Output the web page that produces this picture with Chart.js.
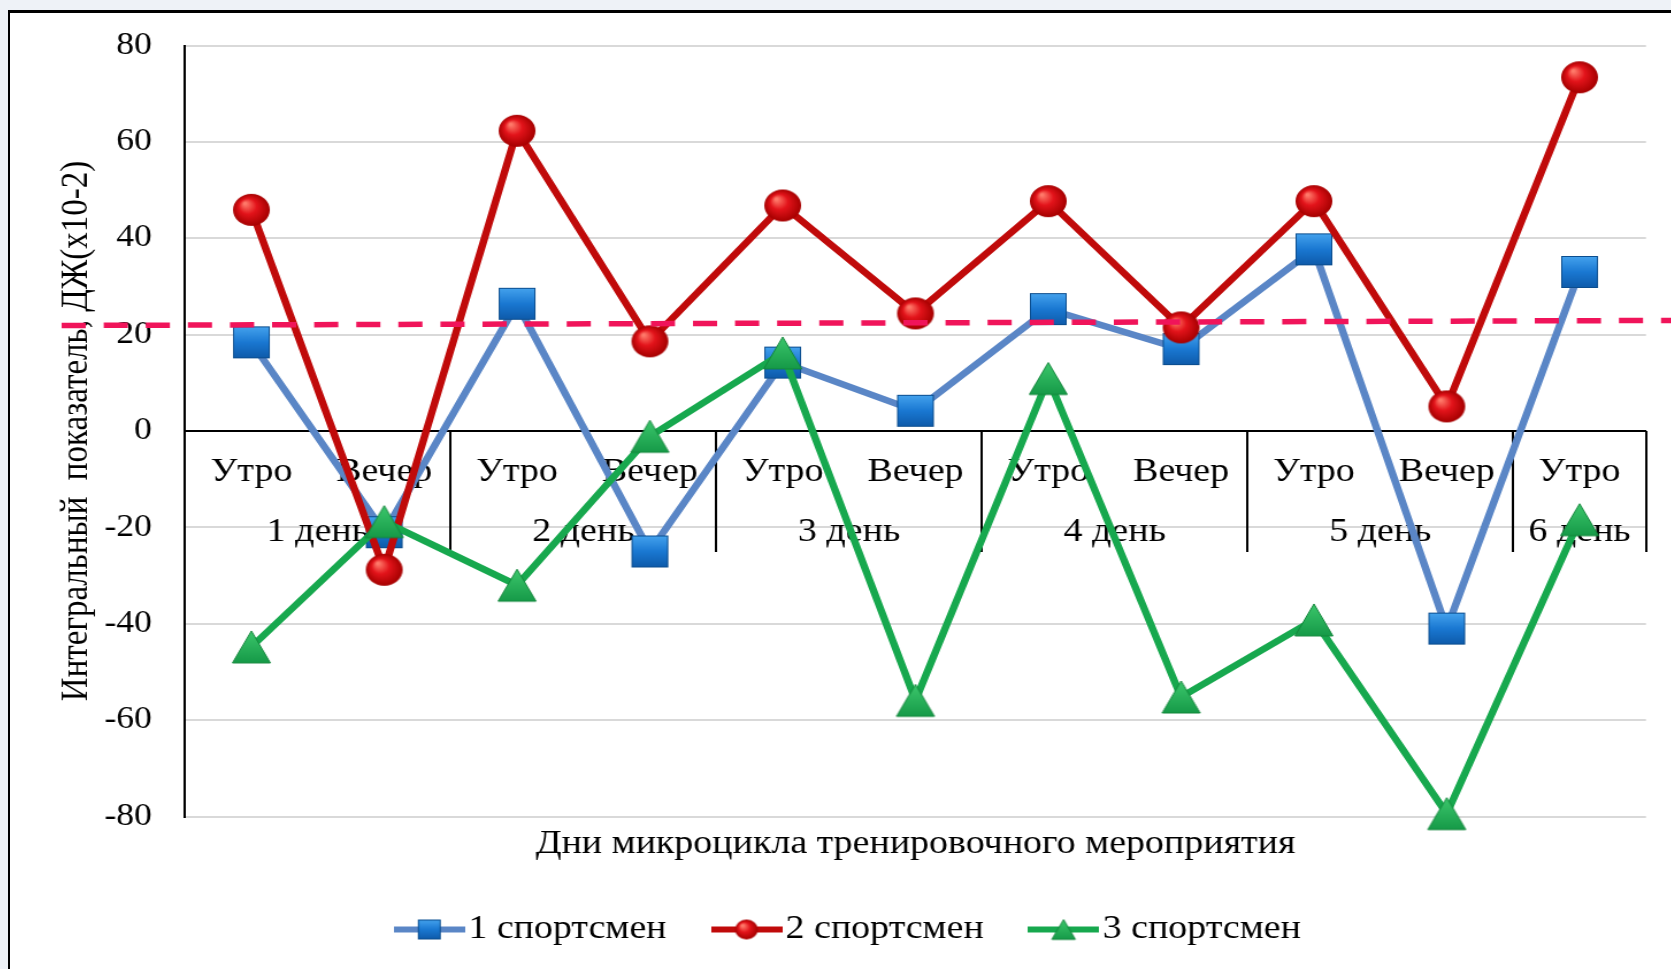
<!DOCTYPE html>
<html>
<head>
<meta charset="utf-8">
<script src="https://cdn.jsdelivr.net/npm/chart.js@4"></script>
<style>
  html, body { margin: 0; padding: 0; width: 1671px; height: 969px; overflow: hidden; background: #eef2f7; }
  #frame { position: absolute; left: 8px; top: 10px; width: 1700px; height: 1000px; border-left: 2px solid #000; border-top: 3px solid #000; background: #fff; }
  /* the source picture is stretched horizontally, so the chart is too */
  #wrap { position: absolute; left: 11px; top: 13px; width: 1518px; height: 956px; transform: scaleX(1.15); transform-origin: 0 0; }
</style>
</head>
<body>
<div id="frame"></div>
<div id="wrap"><canvas id="chart"></canvas></div>
<script>
// categories
const sessions = ['Утро', 'Вечер', 'Утро', 'Вечер', 'Утро', 'Вечер', 'Утро', 'Вечер', 'Утро', 'Вечер', 'Утро'];
const days = ['1 день', '2 день', '3 день', '4 день', '5 день', '6 день'];
const sessionDay = [0, 0, 1, 1, 2, 2, 3, 3, 4, 4, 5];

// series (integral index, x10-2)
const athlete1 = [18.4, -21, 26.4, -25, 14.2, 4.2, 25.3, 17, 37.7, -41, 33];
const athlete2 = [45.9, -28.8, 62.3, 18.6, 46.8, 24.4, 47.7, 21.5, 47.7, 5.1, 73.4];
const athlete3 = [-44.8, -18.8, -32, -1.1, 16.2, -55.9, 10.9, -55.2, -39.2, -79.4, -18.4];
const seriesNames = ['1 спортсмен', '2 спортсмен', '3 спортсмен'];

// y axis
const yMin = -80, yMax = 80, yStep = 20;
// dashed reference level (left end, right end)
const thresholdLevel = [21.9, 23.0];

const yTitle = 'Интегральный  показатель, ДЖ(х10-2)';
const xTitle = 'Дни микроцикла тренировочного мероприятия';

const FONT = "'Liberation Serif', 'Times New Roman', serif";
const TEXT = 33, TICK = 31;
Chart.defaults.font.family = FONT;
Chart.defaults.color = '#000';

function drawSquare(ctx, cx, cy, s) {
  const g = ctx.createLinearGradient(0, cy - s / 2, 0, cy + s / 2);
  g.addColorStop(0, '#45a3ee');
  g.addColorStop(0.5, '#1a78d2');
  g.addColorStop(1, '#0e5aa9');
  ctx.fillStyle = g;
  ctx.fillRect(cx - s / 2, cy - s / 2, s, s);
  ctx.strokeStyle = '#0b4d8e';
  ctx.lineWidth = 1;
  ctx.strokeRect(cx - s / 2 + 0.5, cy - s / 2 + 0.5, s - 1, s - 1);
}
function drawCircle(ctx, cx, cy, r) {
  const g = ctx.createRadialGradient(cx - r * 0.35, cy - r * 0.4, 1, cx, cy, r);
  g.addColorStop(0, '#ff7a6a');
  g.addColorStop(0.45, '#e3141b');
  g.addColorStop(1, '#a50000');
  ctx.fillStyle = g;
  ctx.beginPath();
  ctx.arc(cx, cy, r, 0, Math.PI * 2);
  ctx.fill();
}
function drawTriangle(ctx, cx, cy, w, h) {
  const g = ctx.createLinearGradient(0, cy - h / 2, 0, cy + h / 2);
  g.addColorStop(0, '#3cc76c');
  g.addColorStop(1, '#169a48');
  ctx.fillStyle = g;
  ctx.beginPath();
  ctx.moveTo(cx, cy - h / 2);
  ctx.lineTo(cx + w / 2, cy + h / 2);
  ctx.lineTo(cx - w / 2, cy + h / 2);
  ctx.closePath();
  ctx.fill();
  ctx.strokeStyle = '#12863b';
  ctx.lineWidth = 1;
  ctx.stroke();
}

function makeIcon(kind, w, h, lineColor, scale) {
  const c = document.createElement('canvas');
  c.width = w; c.height = h;
  const ctx = c.getContext('2d');
  if (lineColor) {
    ctx.strokeStyle = lineColor;
    ctx.lineWidth = 6;
    ctx.beginPath();
    ctx.moveTo(0, h / 2);
    ctx.lineTo(w, h / 2);
    ctx.stroke();
  }
  const k = scale || 1;
  if (kind === 'square') drawSquare(ctx, w / 2, h / 2, 32 * k);
  if (kind === 'circle') drawCircle(ctx, w / 2, h / 2, 16 * k);
  if (kind === 'triangle') drawTriangle(ctx, w / 2, h / 2, 33 * k, 32 * k);
  return c;
}

const lineColors = ['#5a86c6', '#c00a0a', '#17a84e'];
const markerKinds = ['square', 'circle', 'triangle'];
const pointIcons = markerKinds.map(k => makeIcon(k, 36, 36));
const legendIcons = markerKinds.map((k, i) => makeIcon(k, 62, 34, lineColors[i], 0.62));

const dayTable = {
  id: 'dayTable',
  beforeDatasetsDraw(chart) {
    const {ctx, scales: {x, y}} = chart;
    const top = y.getPixelForValue(0);
    ctx.save();
    ctx.strokeStyle = '#000';
    ctx.lineWidth = 2;
    ctx.fillStyle = '#000';
    ctx.font = TEXT + 'px ' + FONT;
    ctx.textAlign = 'center';
    ctx.textBaseline = 'middle';
    days.forEach((day, d) => {
      const idx = [];
      sessionDay.forEach((v, i) => { if (v === d) idx.push(i); });
      const first = idx[0], last = idx[idx.length - 1];
      const edge = Math.round(x.getPixelForValue(last + 0.5));
      ctx.beginPath();
      ctx.moveTo(edge, top);
      ctx.lineTo(edge, top + 121);
      ctx.stroke();
      ctx.fillText(day, x.getPixelForValue((first + last) / 2), top + 101);
    });
    ctx.restore();
  }
};

const thresholdPlugin = {
  id: 'threshold',
  afterDatasetsDraw(chart) {
    const {ctx, scales: {y}} = chart;
    ctx.save();
    ctx.setLineDash([21, 15.6]);
    ctx.lineWidth = 5.5;
    ctx.strokeStyle = '#f0145a';
    ctx.beginPath();
    ctx.moveTo(44, y.getPixelForValue(thresholdLevel[0]));
    ctx.lineTo(chart.width, y.getPixelForValue(thresholdLevel[1]));
    ctx.stroke();
    ctx.restore();
  }
};

const seriesData = [athlete1, athlete2, athlete3];

new Chart(document.getElementById('chart'), {
  type: 'line',
  data: {
    labels: sessions,
    datasets: seriesData.map((d, i) => ({
      label: seriesNames[i],
      data: d,
      borderColor: lineColors[i],
      backgroundColor: lineColors[i],
      borderWidth: 6.5,
      pointStyle: pointIcons[i],
      pointRadius: 16,
      tension: 0,
      fill: false,
      clip: false,
      order: 3 - i,
      xAxisID: 'x',
      yAxisID: 'y'
    }))
  },
  options: {
    responsive: true,
    maintainAspectRatio: false,
    devicePixelRatio: 1,
    animation: false,
    layout: { padding: { left: 46.1, right: 96.3, top: 32.5, bottom: 13 } },
    plugins: {
      tooltip: { enabled: false },
      legend: {
        position: 'bottom',
        labels: {
          usePointStyle: true,
          pointStyleWidth: 35,
          padding: 52,
          color: '#000',
          font: { size: TEXT },
          generateLabels(chart) {
            const items = Chart.defaults.plugins.legend.labels.generateLabels(chart);
            items.forEach(it => { it.pointStyle = legendIcons[it.datasetIndex]; });
            return items.sort((a, b) => a.datasetIndex - b.datasetIndex);
          }
        }
      }
    },
    scales: {
      x: {
        type: 'category',
        offset: true,
        position: { y: 0 },
        grid: { display: false, drawTicks: false },
        border: { display: true, color: '#000', width: 2 },
        ticks: { padding: 21.7, font: { size: TEXT }, color: '#000', maxRotation: 0, autoSkip: false }
      },
      xTitle: {
        type: 'category',
        labels: sessions,
        offset: true,
        position: 'bottom',
        grid: { display: false, drawTicks: false },
        border: { display: false },
        ticks: { display: false },
        title: { display: true, text: xTitle, color: '#000', font: { size: TEXT, lineHeight: 1 }, padding: 0 },
        afterFit(s) { s.height = 44.5; }
      },
      y: {
        min: yMin,
        max: yMax,
        grid: {
          color: c => (c.tick && c.tick.value === 0 ? '#000' : '#d9d9d9'),
          lineWidth: 2,
          drawTicks: false
        },
        border: { display: true, color: '#000', width: 2 },
        ticks: { stepSize: yStep, padding: 28.7, font: { size: TICK }, color: '#000' },
        title: { display: true, text: yTitle, color: '#000', font: { size: TEXT, lineHeight: 1 }, padding: { top: -5.2, bottom: 0 } },
        afterFit(s) {
          s.width = 105.2;
          s.paddingTop = 0;
          s.paddingBottom = 0;
        }
      }
    }
  },
  plugins: [dayTable, thresholdPlugin]
});
</script>
</body>
</html>
